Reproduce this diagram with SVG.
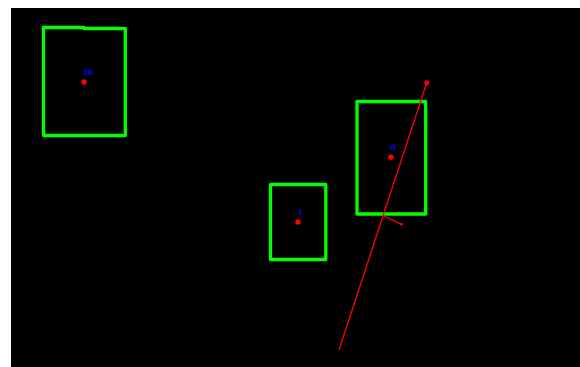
<svg xmlns="http://www.w3.org/2000/svg" width="580" height="367" viewBox="0 0 580 367">
<style>
.box{fill:none;stroke:#00ff00;stroke-width:3.3;stroke-linejoin:round;stroke-linecap:round}
.lbl{fill:#0000ff;font-family:"DejaVu Sans",sans-serif;font-size:7.5px;font-weight:bold;text-anchor:middle}
.dot{fill:#ff0000}
.ln{stroke:#ff0000;stroke-width:1.3;fill:none}
</style>
<rect x="0" y="0" width="580" height="367" fill="#ffffff"/>
<rect x="11" y="8" width="569" height="359" fill="#000000"/>
<g id="node-18">
<path class="box" d="M43.5,27.5 L84,27.5 L84,28.5 L125.3,28.5 L125.3,135.5 L43.5,135.5 Z"/>
<text class="lbl" x="88" y="74.5">18</text>
<circle class="dot" cx="84" cy="82" r="2.7"/>
</g>
<g id="node-1">
<rect class="box" x="270.5" y="184.5" width="55.3" height="75"/>
<text class="lbl" x="300" y="214.5">1</text>
<circle class="dot" cx="298" cy="222" r="2.7"/>
</g>
<g id="node-0">
<rect class="box" x="357" y="101.5" width="68.7" height="112.5"/>
<text class="lbl" x="393" y="150">0</text>
<circle class="dot" cx="391" cy="157.3" r="2.7"/>
</g>
<g id="connectors">
<line class="ln" x1="426.7" y1="82.7" x2="339" y2="350"/>
<circle class="dot" cx="426.7" cy="82.7" r="2.5"/>
<line class="ln" x1="383.3" y1="215.5" x2="401.5" y2="224.3"/>
<circle class="dot" cx="401.5" cy="224.3" r="1.4"/>
</g>
</svg>
